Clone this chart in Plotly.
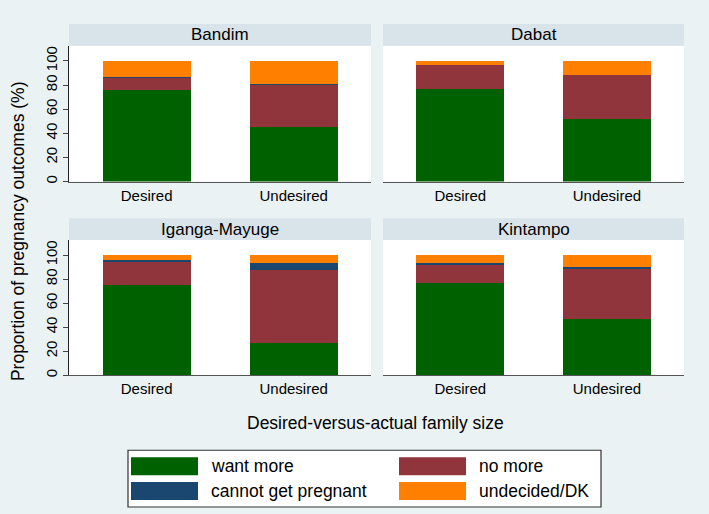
import plotly.graph_objects as go

W, H = 709, 514

sites = ["Bandim", "Dabat", "Iganga-Mayuge", "Kintampo"]
categories = ["Desired", "Undesired"]

# values per site: [Desired, Undesired]
want_more = {
    "Bandim": [76.3, 44.9],
    "Dabat": [76.9, 51.8],
    "Iganga-Mayuge": [75.4, 27.1],
    "Kintampo": [76.8, 47.2],
}
no_more = {
    "Bandim": [9.9, 35.5],
    "Dabat": [19.5, 36.6],
    "Iganga-Mayuge": [18.8, 60.5],
    "Kintampo": [15.7, 41.8],
}
cannot_get_pregnant = {
    "Bandim": [0.3, 0.3],
    "Dabat": [0.0, 0.0],
    "Iganga-Mayuge": [1.7, 6.0],
    "Kintampo": [0.9, 1.1],
}
undecided_dk = {
    "Bandim": [13.5, 19.3],
    "Dabat": [3.6, 11.6],
    "Iganga-Mayuge": [4.1, 6.4],
    "Kintampo": [6.6, 9.9],
}

series_names = ["want more", "no more", "cannot get pregnant", "undecided/DK"]
series_data = [want_more, no_more, cannot_get_pregnant, undecided_dk]
colors = ["#006100", "#90353B", "#1A476F", "#FF8000"]

y_ticks = [0, 20, 40, 60, 80, 100]

BG = "#EAF2F3"
STRIP = "#D9E4EA"
FONT = "Liberation Sans"

def px_x(p):
    return p / W

def px_y(p):
    return 1 - p / H

# panel geometry (pixels)
cols = [(69, 371), (383, 684)]
rows = [(24, 46, 182.3), (219, 241, 376.7)]  # strip top, plot top, plot bottom

fig = go.Figure()
shapes = []
annotations = []

for i, site in enumerate(sites):
    r, c = divmod(i, 2)
    ax = "" if i == 0 else str(i + 1)
    for name, data, col in zip(series_names, series_data, colors):
        fig.add_trace(go.Bar(
            x=categories, y=data[site], name=name,
            marker=dict(color=col, line=dict(width=0)),
            width=0.6, showlegend=False,
            xaxis="x" + ax, yaxis="y" + ax,
        ))
    x0, x1 = cols[c]
    st, pt, pb = rows[r]
    fig.layout["xaxis" + ax] = dict(
        domain=[px_x(x0), px_x(x1)], anchor="y" + ax,
        range=[-0.528, 1.526], showgrid=False, zeroline=False,
        showline=True, linecolor="#555555", linewidth=1,
        ticks="", tickfont=dict(family=FONT, size=15, color="#000000"),
        fixedrange=True,
    )
    fig.layout["yaxis" + ax] = dict(
        domain=[px_y(pb), px_y(pt)], anchor="x" + ax,
        range=[0, 112.5], showgrid=False, zeroline=False,
        showline=(c == 0), linecolor="#222222", linewidth=1,
        tickvals=y_ticks if c == 0 else [],
        showticklabels=(c == 0),
        ticks="outside" if c == 0 else "", ticklen=5, tickcolor="#444444",
        tickangle=-90,
        tickfont=dict(family=FONT, size=15, color="#000000"),
        fixedrange=True,
    )
    # white plot background
    shapes.append(dict(type="rect", xref="paper", yref="paper",
                       x0=px_x(x0), x1=px_x(x1), y0=px_y(pb), y1=px_y(pt),
                       fillcolor="#FFFFFF", line=dict(width=0), layer="below"))
    # header strip
    shapes.append(dict(type="rect", xref="paper", yref="paper",
                       x0=px_x(x0), x1=px_x(x1), y0=px_y(pt), y1=px_y(st),
                       fillcolor=STRIP, line=dict(width=0), layer="below"))
    annotations.append(dict(text=site, xref="paper", yref="paper",
                            x=px_x((x0 + x1) / 2), y=px_y((st + pt) / 2),
                            xanchor="center", yanchor="middle", showarrow=False,
                            font=dict(family=FONT, size=17, color="#000000")))

# axis titles
annotations.append(dict(text="Proportion of pregnancy outcomes (%)", xref="paper", yref="paper",
                        x=px_x(18), y=px_y(232), textangle=-90, showarrow=False,
                        xanchor="center", yanchor="middle",
                        font=dict(family=FONT, size=17.5, color="#000000")))
annotations.append(dict(text="Desired-versus-actual family size", xref="paper", yref="paper",
                        x=px_x(376), y=px_y(425), showarrow=False,
                        xanchor="center", yanchor="middle",
                        font=dict(family=FONT, size=17.5, color="#000000")))

# legend
shapes.append(dict(type="rect", xref="paper", yref="paper",
                   x0=px_x(128), x1=px_x(601), y0=px_y(509), y1=px_y(452),
                   fillcolor="#FFFFFF", line=dict(color="#333333", width=1.2)))
leg_pos = [(131, 459), (399, 459), (131, 484), (399, 484)]
for (lx, ly), name, col in zip(leg_pos, series_names, colors):
    shapes.append(dict(type="rect", xref="paper", yref="paper",
                       x0=px_x(lx), x1=px_x(lx + 67), y0=px_y(ly + 18), y1=px_y(ly),
                       fillcolor=col, line=dict(width=0)))
    annotations.append(dict(text=name, xref="paper", yref="paper",
                            x=px_x(lx + 78), y=px_y(ly + 9), showarrow=False,
                            xanchor="left", yanchor="middle",
                            font=dict(family=FONT, size=17.5, color="#000000")))

fig.update_layout(
    width=W, height=H, barmode="stack",
    margin=dict(l=0, r=0, t=0, b=0),
    paper_bgcolor=BG, plot_bgcolor="rgba(0,0,0,0)",
    shapes=shapes, annotations=annotations,
    font=dict(family=FONT),
    bargap=0.4,
)

fig.write_html(
    "out.html",
    config={"displayModeBar": False},
    post_script="document.body.style.margin='0';document.body.style.padding='0';",
)
